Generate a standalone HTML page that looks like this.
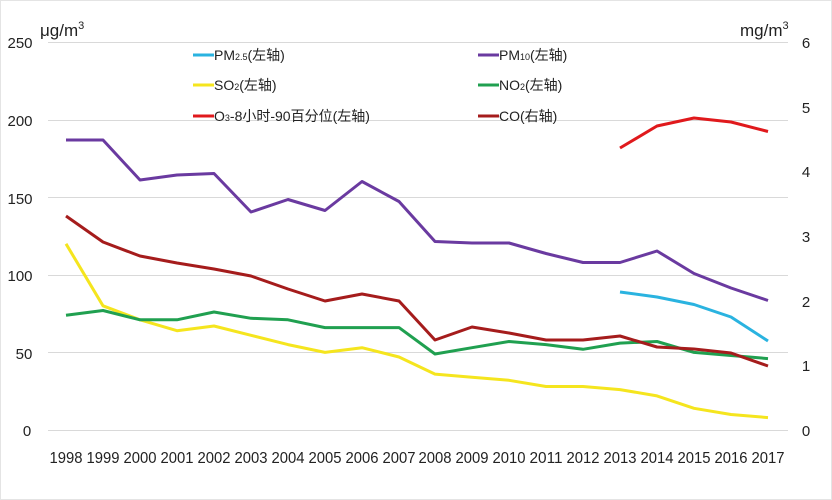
<!DOCTYPE html>
<html><head><meta charset="utf-8"><style>
html,body{margin:0;padding:0;background:#fff;}
svg{display:block;}
text{font-family:"Liberation Sans","Noto Sans CJK SC",sans-serif;fill:#222;}
</style></head><body>
<svg width="832" height="500" viewBox="0 0 832 500" xmlns="http://www.w3.org/2000/svg">
<rect x="0" y="0" width="832" height="500" fill="#fff"/>
<rect x="0.5" y="0.5" width="831" height="499" fill="none" stroke="#e4e4e4"/>
<g stroke="#d9d9d9" stroke-width="1">
<line x1="48" y1="42.5" x2="788" y2="42.5"/>
<line x1="48" y1="120.5" x2="788" y2="120.5"/>
<line x1="48" y1="197.5" x2="788" y2="197.5"/>
<line x1="48" y1="275.5" x2="788" y2="275.5"/>
<line x1="48" y1="352.5" x2="788" y2="352.5"/>
<line x1="48" y1="430.5" x2="788" y2="430.5"/>
</g>
<g font-size="15" text-anchor="middle">
<text x="20" y="48">250</text><text x="20" y="126">200</text><text x="20" y="204">150</text>
<text x="20" y="281">100</text><text x="24" y="359">50</text><text x="27" y="436">0</text>
<text x="806" y="48">6</text><text x="806" y="113">5</text><text x="806" y="177">4</text>
<text x="806" y="242">3</text><text x="806" y="307">2</text><text x="806" y="371">1</text><text x="806" y="436">0</text>
</g>
<text x="40" y="36" font-size="17">μg/m<tspan font-size="11" dy="-7">3</tspan></text>
<text x="740" y="36" font-size="17">mg/m<tspan font-size="11" dy="-7">3</tspan></text>
<g font-size="16" text-anchor="middle">
<text x="66" y="463" textLength="33" lengthAdjust="spacingAndGlyphs">1998</text><text x="103" y="463" textLength="33" lengthAdjust="spacingAndGlyphs">1999</text><text x="140" y="463" textLength="33" lengthAdjust="spacingAndGlyphs">2000</text><text x="177" y="463" textLength="33" lengthAdjust="spacingAndGlyphs">2001</text><text x="214" y="463" textLength="33" lengthAdjust="spacingAndGlyphs">2002</text><text x="251" y="463" textLength="33" lengthAdjust="spacingAndGlyphs">2003</text><text x="288" y="463" textLength="33" lengthAdjust="spacingAndGlyphs">2004</text><text x="325" y="463" textLength="33" lengthAdjust="spacingAndGlyphs">2005</text><text x="362" y="463" textLength="33" lengthAdjust="spacingAndGlyphs">2006</text><text x="399" y="463" textLength="33" lengthAdjust="spacingAndGlyphs">2007</text><text x="435" y="463" textLength="33" lengthAdjust="spacingAndGlyphs">2008</text><text x="472" y="463" textLength="33" lengthAdjust="spacingAndGlyphs">2009</text><text x="509" y="463" textLength="33" lengthAdjust="spacingAndGlyphs">2010</text><text x="546" y="463" textLength="33" lengthAdjust="spacingAndGlyphs">2011</text><text x="583" y="463" textLength="33" lengthAdjust="spacingAndGlyphs">2012</text><text x="620" y="463" textLength="33" lengthAdjust="spacingAndGlyphs">2013</text><text x="657" y="463" textLength="33" lengthAdjust="spacingAndGlyphs">2014</text><text x="694" y="463" textLength="33" lengthAdjust="spacingAndGlyphs">2015</text><text x="731" y="463" textLength="33" lengthAdjust="spacingAndGlyphs">2016</text><text x="768" y="463" textLength="33" lengthAdjust="spacingAndGlyphs">2017</text>
</g>
<g fill="none" stroke-width="3" stroke-linejoin="round">
<polyline stroke="#f5e51e" points="66,243.8 103,305.8 140,319.8 177,330.7 214,326 251,335.3 288,344.6 325,352.4 362,347.7 399,357 435,374.1 472,377.2 509,380.3 546,386.5 583,386.5 620,389.6 657,395.9 694,408.3 731,414.5 768,417.6"/>
<polyline stroke="#20a050" points="66,315.2 103,310.5 140,319.8 177,319.8 214,312 251,318.3 288,319.8 325,327.6 362,327.6 399,327.6 435,354 472,347.7 509,341.5 546,344.6 583,349.3 620,343.1 657,341.5 694,352.4 731,355.5 768,358.6"/>
<polyline stroke="#a51c1c" points="66,216 103,242 140,256 177,263 214,269 251,276 288,289 325,301 362,294 399,301 435,340 472,327 509,333 546,340 583,340 620,336 657,347 694,349 731,353 768,366"/>
<polyline stroke="#6a3aa0" points="66,140 103,140 140,180 177,175 214,173.5 251,212 288,199.5 325,210.5 362,181.5 399,201.5 435,241.5 472,243 509,243 546,253.5 583,262.5 620,262.5 657,251 694,273.5 731,288 768,300.5"/>
<polyline stroke="#2ab3e0" points="620,292 657,297 694,304.5 731,317 768,341"/>
<polyline stroke="#e0191c" points="620,148 657,126 694,118 731,122 768,131.5"/>
</g>
<g stroke-width="3">
<line x1="193" y1="55" x2="214" y2="55" stroke="#2ab3e0"/>
<line x1="193" y1="85" x2="214" y2="85" stroke="#f5e51e"/>
<line x1="193" y1="116" x2="214" y2="116" stroke="#e0191c"/>
<line x1="478" y1="55" x2="499" y2="55" stroke="#6a3aa0"/>
<line x1="478" y1="85" x2="499" y2="85" stroke="#20a050"/>
<line x1="478" y1="116" x2="499" y2="116" stroke="#a51c1c"/>
</g>
<g font-size="14">
<text x="214" y="60">PM<tspan font-size="9">2.5</tspan>(左轴)</text>
<text x="214" y="90">SO<tspan font-size="9">2</tspan>(左轴)</text>
<text x="214" y="121">O<tspan font-size="9">3</tspan>-8小时-90百分位(左轴)</text>
<text x="499" y="60">PM<tspan font-size="9">10</tspan>(左轴)</text>
<text x="499" y="90">NO<tspan font-size="9">2</tspan>(左轴)</text>
<text x="499" y="121">CO(右轴)</text>
</g>
</svg>
</body></html>
